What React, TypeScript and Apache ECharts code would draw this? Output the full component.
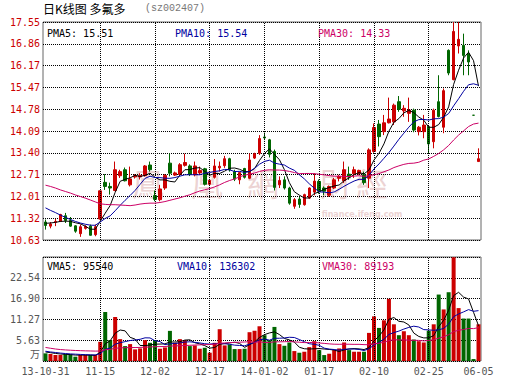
import React, { useEffect, useRef } from 'react';
import * as echarts from 'echarts';

const dates = [
  '2013-10-31', '2013-11-01', '2013-11-04', '2013-11-05', '2013-11-06', '2013-11-07', '2013-11-08', '2013-11-11', '2013-11-12', '2013-11-13',
  '2013-11-14', '2013-11-15', '2013-11-18', '2013-11-19', '2013-11-20', '2013-11-21', '2013-11-22', '2013-11-25', '2013-11-26', '2013-11-27',
  '2013-11-28', '2013-11-29', '2013-12-02', '2013-12-03', '2013-12-04', '2013-12-05', '2013-12-06', '2013-12-09', '2013-12-10', '2013-12-11',
  '2013-12-12', '2013-12-13', '2013-12-16', '2013-12-17', '2013-12-18', '2013-12-19', '2013-12-20', '2013-12-23', '2013-12-24', '2013-12-25',
  '2013-12-26', '2013-12-27', '2013-12-30', '2013-12-31', '2014-01-02', '2014-01-03', '2014-01-06', '2014-01-07', '2014-01-08', '2014-01-09',
  '2014-01-10', '2014-01-13', '2014-01-14', '2014-01-15', '2014-01-16', '2014-01-17', '2014-01-20', '2014-01-21', '2014-01-22', '2014-01-23',
  '2014-01-24', '2014-01-27', '2014-01-28', '2014-01-29', '2014-01-30', '2014-02-07', '2014-02-10', '2014-02-11', '2014-02-12', '2014-02-13',
  '2014-02-14', '2014-02-17', '2014-02-18', '2014-02-19', '2014-02-20', '2014-02-21', '2014-02-24', '2014-02-25', '2014-02-26', '2014-02-27',
  '2014-02-28', '2014-03-03', '2014-03-04', '2014-03-05', '2014-03-06', '2014-03-07', '2014-06-04', '2014-06-05',
];

const opens = [
  11.20, 11.07, 11.19, 11.22, 11.40, 11.25, 11.08, 10.83, 11.00, 11.07,
  10.80, 11.30, 12.46, 12.33, 12.20, 12.67, 12.86, 12.38, 12.63, 12.63,
  12.67, 13.01, 12.04, 11.91, 12.28, 13.07, 12.69, 12.71, 13.00, 12.98,
  12.70, 12.76, 12.89, 12.40, 12.62, 12.92, 12.99, 13.21, 12.80, 12.54,
  12.90, 12.59, 13.23, 13.38, 13.90, 13.81, 13.44, 12.38, 12.54, 12.28,
  11.70, 11.93, 11.75, 11.96, 12.15, 12.49, 12.28, 12.05, 12.28, 12.59,
  12.51, 12.72, 12.73, 12.74, 12.70, 12.59, 13.44, 14.31, 14.07, 14.35,
  14.38, 15.02, 14.73, 14.65, 14.75, 14.07, 14.07, 14.23, 13.75, 15.02,
  14.21, 16.65, 15.72, 16.79, 16.81, 16.54, 14.59, 13.12,
];

const closes = [
  11.09, 11.14, 11.22, 11.44, 11.25, 11.07, 10.91, 11.05, 11.06, 10.78,
  11.05, 12.19, 12.33, 12.28, 12.86, 12.80, 12.51, 12.57, 12.67, 12.68,
  12.98, 12.86, 11.92, 12.25, 12.68, 12.75, 12.76, 13.02, 13.09, 12.71,
  12.98, 12.84, 12.40, 12.52, 12.98, 12.97, 13.21, 12.86, 12.56, 12.77,
  12.62, 13.17, 13.37, 13.85, 13.87, 13.35, 12.30, 12.52, 12.28, 11.80,
  11.91, 11.76, 12.07, 12.28, 12.50, 12.18, 12.18, 12.33, 12.54, 12.65,
  12.86, 12.63, 12.86, 12.84, 12.45, 13.49, 14.20, 13.91, 14.35, 14.47,
  14.91, 14.78, 14.81, 14.75, 14.12, 14.21, 14.28, 13.68, 14.75, 14.55,
  15.37, 15.93, 17.25, 17.00, 16.49, 16.28, 14.59, 13.21,
];

const lows = [
  10.96, 11.00, 11.07, 11.20, 11.17, 11.05, 10.86, 10.73, 10.96, 10.77,
  10.75, 11.28, 12.22, 12.07, 12.18, 12.60, 12.49, 12.33, 12.58, 12.55,
  12.64, 12.80, 11.86, 11.86, 12.22, 12.65, 12.66, 12.69, 12.96, 12.66,
  12.65, 12.70, 12.36, 12.36, 12.58, 12.80, 12.92, 12.80, 12.50, 12.40,
  12.58, 12.56, 13.20, 13.33, 13.80, 13.25, 12.20, 12.28, 12.23, 11.75,
  11.62, 11.65, 11.72, 11.93, 12.05, 12.10, 12.05, 12.00, 12.25, 12.49,
  12.44, 12.54, 12.60, 12.70, 12.38, 12.28, 13.40, 13.60, 13.96, 14.33,
  14.28, 14.70, 14.54, 14.38, 14.05, 13.95, 13.86, 13.38, 13.54, 14.52,
  14.02, 15.86, 15.70, 16.55, 15.86, 15.86, 14.59, 13.12,
];

const highs = [
  11.28, 11.20, 11.30, 11.46, 11.49, 11.36, 11.10, 11.12, 11.10, 11.12,
  11.12, 12.20, 12.72, 12.45, 13.12, 12.86, 12.93, 12.96, 12.72, 12.75,
  13.01, 13.12, 12.20, 12.38, 12.72, 13.38, 12.80, 13.07, 13.37, 13.03,
  13.12, 12.96, 12.92, 12.57, 13.20, 13.12, 13.30, 13.24, 12.86, 12.80,
  12.92, 13.38, 13.40, 13.96, 14.04, 13.84, 13.50, 12.65, 12.65, 12.32,
  11.96, 12.00, 12.10, 12.30, 12.75, 12.55, 12.33, 12.36, 12.60, 12.70,
  13.12, 12.96, 12.96, 12.86, 12.80, 13.54, 14.33, 14.44, 14.60, 15.15,
  14.96, 15.20, 14.91, 15.15, 14.80, 14.25, 14.60, 14.25, 14.80, 15.86,
  15.44, 16.68, 17.55, 17.55, 17.18, 16.65, 14.59, 13.54,
];

// volume in 万 (10,000 lots)
const volumes = [
  2.07, 1.89, 1.62, 1.62, 1.80, 1.80, 1.17, 1.62, 1.62, 1.62,
  1.62, 5.20, 13.27, 5.65, 11.92, 5.92, 4.04, 4.58, 3.14, 3.41,
  5.65, 4.93, 5.65, 3.32, 3.68, 8.16, 4.93, 5.92, 5.65, 4.04,
  4.22, 3.32, 3.59, 2.25, 4.93, 8.61, 4.22, 4.49, 3.23, 3.23,
  3.32, 7.80, 8.16, 9.41, 6.99, 5.64, 9.23, 4.57, 4.12, 5.02,
  2.69, 2.24, 2.51, 3.76, 5.37, 2.95, 1.61, 1.97, 2.95, 3.40,
  5.02, 2.95, 2.51, 2.51, 2.51, 7.61, 12.09, 8.96, 11.02, 16.84,
  9.94, 6.99, 8.06, 6.99, 5.82, 5.37, 5.02, 8.20, 9.94, 18.00,
  13.97, 18.63, 28.10, 14.33, 11.50, 11.50, 0.53, 9.94,
];

// moving-average values before enough visible days exist
const ma5Head = [11.16, 11.17, 11.19, 11.22];
const ma10Head = [11.65, 11.57, 11.50, 11.42, 11.35, 11.28, 11.22, 11.17, 11.13];
const ma30Head = [
  12.37, 12.33, 12.28, 12.22, 12.17, 12.12, 12.06, 12.01, 11.96, 11.90,
  11.84, 11.78, 11.76, 11.75, 11.75, 11.74, 11.73, 11.72, 11.74, 11.77,
  11.79, 11.80, 11.80, 11.82, 11.85, 11.89, 11.93, 11.97, 12.02,
];
const vma5Head = [2.45, 2.25, 2.05, 1.90];
const vma10Head = [2.65, 2.45, 2.30, 2.15, 2.02, 1.92, 1.85, 1.78, 1.72];
const vma30Head = [
  3.67, 3.45, 3.25, 3.10, 3.00, 2.92, 2.85, 2.80, 2.75, 2.72,
  2.68, 2.70, 3.05, 3.15, 3.45, 3.55, 3.60, 3.65, 3.65, 3.68,
  3.75, 3.80, 3.88, 3.90, 3.92, 4.05, 4.08, 4.15, 4.20,
];

const priceTickLabels = ['10.63', '11.32', '12.01', '12.71', '13.40', '14.09', '14.78', '15.47', '16.17', '16.86', '17.55'];
const priceMin = 10.63;
const priceMax = 17.55;
const volTickLabels = ['', '5.63', '11.27', '16.90', '22.54', ''];
const volStep = 5.634;
const xTickIndex = [0, 11, 22, 33, 44, 55, 66, 77, 87];
const xTickLabels = ['13-10-31', '11-15', '12-02', '12-17', '14-01-02', '01-17', '02-10', '02-25', '06-05'];
const vGridIndex = [11, 22, 33, 44, 55, 66, 77];

const priceLegend = [
  { text: 'PMA5: 15.51', color: '#000000' },
  { text: 'PMA10: 15.54', color: '#0000a0' },
  { text: 'PMA30: 14.33', color: '#cc0066' },
];
const volLegend = [
  { text: 'VMA5: 95540', color: '#000000' },
  { text: 'VMA10: 136302', color: '#0000a0' },
  { text: 'VMA30: 89193', color: '#cc0066' },
];

const RED = '#cc0000';
const GREEN = '#006600';
const MONO = '"DejaVu Sans Mono", monospace';
const CJK = '"Noto Sans CJK SC", sans-serif';

function movingAverage(values: number[], n: number, head: number[]): number[] {
  return values.map((_, i) => {
    if (i < n - 1) return head[i];
    let s = 0;
    for (let k = i - n + 1; k <= i; k++) s += values[k];
    return +(s / n).toFixed(3);
  });
}

export default function App() {
  const ref = useRef<HTMLDivElement>(null);

  useEffect(() => {
    const chart = echarts.init(ref.current!, null, { renderer: 'svg' });

    const candleData = dates.map((_, i) => [opens[i], closes[i], lows[i], highs[i]]);
    const volData = volumes.map((v, i) => {
      let up = closes[i] > opens[i];
      if (closes[i] === opens[i]) up = i > 0 ? closes[i] >= closes[i - 1] : true;
      return { value: v, itemStyle: { color: up ? RED : GREEN } };
    });

    const dotted = { color: '#000', width: 1, type: [1, 1] as number[] };
    const gridMark = {
      silent: true,
      symbol: ['none', 'none'],
      label: { show: false },
      lineStyle: dotted,
      emphasis: { disabled: true },
      data: vGridIndex.map((i) => ({ xAxis: dates[i] })),
    };

    const lineSeries = (name: string, data: number[], color: string, xi: number, yi: number) => ({
      name,
      type: 'line',
      xAxisIndex: xi,
      yAxisIndex: yi,
      data,
      showSymbol: false,
      symbol: 'none',
      smooth: false,
      silent: true,
      z: 5,
      lineStyle: { color, width: 1 },
    });

    const watermarkChars = [
      { t: '鳳', x: 148 },
      { t: '凰', x: 207 },
      { t: '網', x: 263 },
      { t: '財', x: 336 },
      { t: '經', x: 372 },
    ];

    const option: any = {
      animation: false,
      backgroundColor: '#ffffff',
      textStyle: { fontFamily: MONO },
      grid: [
        { left: 43, top: 22, width: 438, height: 218, show: true, borderColor: '#666', borderWidth: 1, backgroundColor: 'transparent' },
        { left: 43, top: 257, width: 438, height: 104, show: true, borderColor: '#666', borderWidth: 1, backgroundColor: 'transparent' },
      ],
      xAxis: [
        {
          type: 'category', gridIndex: 0, data: dates, boundaryGap: true,
          axisLine: { show: false }, axisTick: { show: false }, axisLabel: { show: false }, splitLine: { show: false },
        },
        {
          type: 'category', gridIndex: 1, data: dates, boundaryGap: true,
          axisLine: { show: false }, axisTick: { show: false }, splitLine: { show: false },
          axisLabel: {
            interval: (idx: number) => xTickIndex.indexOf(idx) >= 0,
            formatter: (_v: string, idx: number) => xTickLabels[xTickIndex.indexOf(idx)] ?? '',
            color: '#555', fontFamily: MONO, fontSize: 10, margin: 5,
          },
        },
      ],
      yAxis: [
        { type: 'value', gridIndex: 0, min: priceMin, max: priceMax, show: false, scale: true },
        {
          type: 'value', gridIndex: 0, min: 0, max: priceTickLabels.length - 1, interval: 1, position: 'left',
          axisLine: { show: false }, axisTick: { show: false },
          axisLabel: { formatter: (v: number) => priceTickLabels[Math.round(v)] ?? '', color: RED, fontFamily: MONO, fontSize: 10, margin: 3 },
          splitLine: { show: true, lineStyle: dotted },
        },
        {
          type: 'value', gridIndex: 1, min: 0, max: volStep * 5, interval: volStep, position: 'left',
          axisLine: { show: false }, axisTick: { show: false },
          axisLabel: { formatter: (v: number) => volTickLabels[Math.round(v / volStep)] ?? '', color: '#555', fontFamily: MONO, fontSize: 10, margin: 3 },
          splitLine: { show: true, lineStyle: dotted },
        },
      ],
      series: [
        {
          type: 'line', xAxisIndex: 0, yAxisIndex: 0, data: closes, showSymbol: false, symbol: 'none', silent: true, z: 1,
          lineStyle: { opacity: 0, width: 0 }, markLine: gridMark,
        },
        {
          type: 'line', xAxisIndex: 1, yAxisIndex: 2, data: volumes, showSymbol: false, symbol: 'none', silent: true, z: 1,
          lineStyle: { opacity: 0, width: 0 }, markLine: gridMark,
        },
        {
          type: 'candlestick', xAxisIndex: 0, yAxisIndex: 0, data: candleData, barWidth: 3, z: 3,
          itemStyle: { color: RED, color0: GREEN, borderColor: RED, borderColor0: GREEN, borderWidth: 1 },
        },
        lineSeries('MA5', movingAverage(closes, 5, ma5Head), '#000000', 0, 0),
        lineSeries('MA10', movingAverage(closes, 10, ma10Head), '#0000a0', 0, 0),
        lineSeries('MA30', movingAverage(closes, 30, ma30Head), '#cc0066', 0, 0),
        { type: 'bar', xAxisIndex: 1, yAxisIndex: 2, data: volData, barWidth: 4, z: 3 },
        lineSeries('VMA5', movingAverage(volumes, 5, vma5Head), '#000000', 1, 2),
        lineSeries('VMA10', movingAverage(volumes, 10, vma10Head), '#0000a0', 1, 2),
        lineSeries('VMA30', movingAverage(volumes, 30, vma30Head), '#cc0066', 1, 2),
      ],
      graphic: [
        ...watermarkChars.map((c) => ({
          type: 'text', x: c.x, y: 182, z: 0, silent: true,
          style: { text: c.t, fill: '#ecd3d3', fontSize: 32, fontFamily: '"Noto Sans CJK TC", sans-serif', align: 'center', verticalAlign: 'middle' },
        })),
        {
          type: 'text', x: 362, y: 214, z: 0, silent: true,
          style: { text: 'finance.ifeng.com', fill: '#ecd3d3', fontSize: 8, fontFamily: '"DejaVu Sans", sans-serif', fontWeight: 'bold', align: 'center', verticalAlign: 'middle' },
        },
        {
          type: 'text', x: 43, y: 8, z: 100,
          style: { text: '日K线图 多氟多', fill: '#000', fontSize: 12, fontFamily: CJK, verticalAlign: 'middle' },
        },
        {
          type: 'text', x: 145, y: 8, z: 100,
          style: { text: '(sz002407)', fill: '#777', fontSize: 10, fontFamily: '"Liberation Mono", monospace', verticalAlign: 'middle' },
        },
        ...priceLegend.map((l, k) => ({
          type: 'text', x: [47, 175, 318][k], y: 33, z: 100,
          style: { text: l.text, fill: l.color, fontSize: 10, fontFamily: MONO, verticalAlign: 'middle' },
        })),
        ...volLegend.map((l, k) => ({
          type: 'text', x: [47, 177, 322][k], y: 266, z: 100,
          style: { text: l.text, fill: l.color, fontSize: 10, fontFamily: MONO, verticalAlign: 'middle' },
        })),
        {
          type: 'text', x: 40, y: 353, z: 100,
          style: { text: '万', fill: '#555', fontSize: 10, fontFamily: CJK, align: 'right', verticalAlign: 'middle' },
        },
      ],
    };

    chart.setOption(option);
    return () => chart.dispose();
  }, []);

  return (
    <div
      ref={ref}
      style={{ position: 'fixed', left: 0, top: 0, width: 530, height: 391, background: '#fff' }}
    />
  );
}
